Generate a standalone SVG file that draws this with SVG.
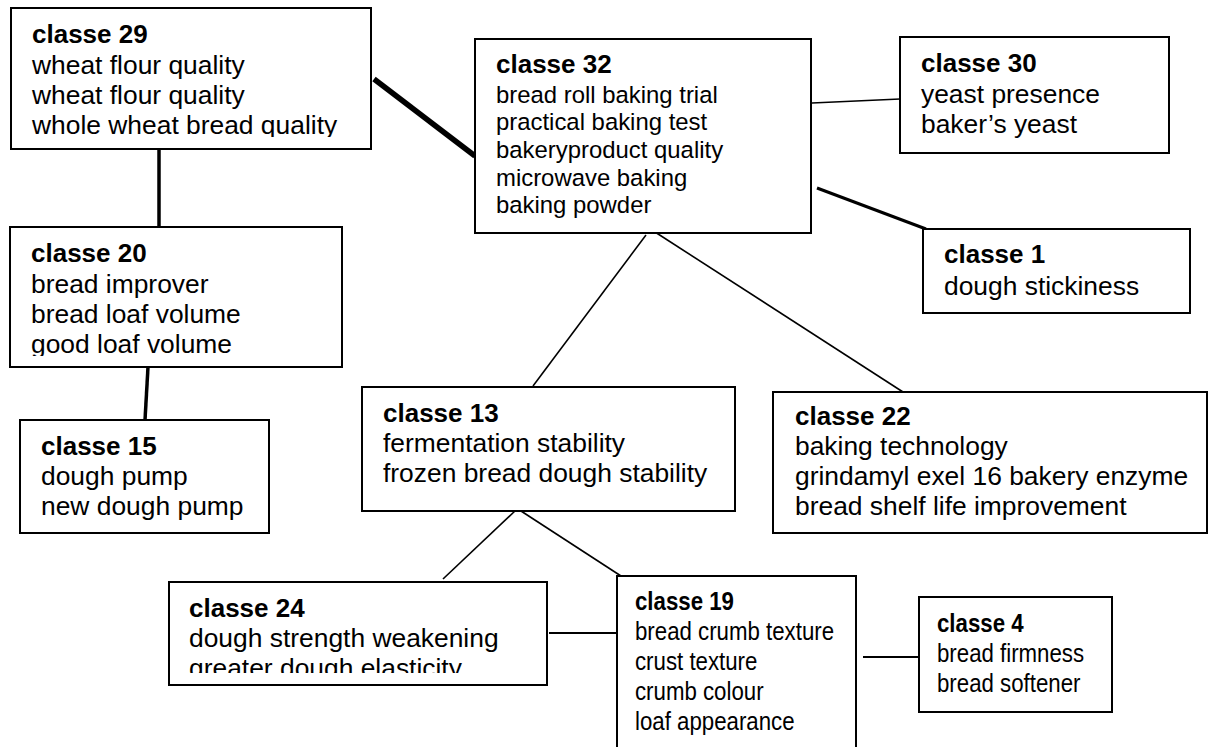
<svg xmlns="http://www.w3.org/2000/svg" width="1216" height="747" viewBox="0 0 1216 747">
<style>
.box{fill:#fff;stroke:#000;stroke-width:2}
.h{font-family:'Liberation Sans',Arial,sans-serif;font-weight:bold;font-size:26px;fill:#000}
.t{font-family:'Liberation Sans',Arial,sans-serif;font-size:26.4px;fill:#000}
.s{font-family:'Liberation Sans',Arial,sans-serif;font-size:23.9px;fill:#000}
.c{stroke:#000;fill:none}
</style>
<defs>
<clipPath id="clip29"><rect x="11" y="8" width="360" height="129"/></clipPath>
<clipPath id="clip20"><rect x="10" y="227" width="332" height="129"/></clipPath>
<clipPath id="clip24"><rect x="169" y="582" width="378" height="91"/></clipPath>
</defs>
<rect width="1216" height="747" fill="#fff"/>
<g id="connectors">
<line class="c" x1="374" y1="79" x2="475" y2="156" stroke-width="5.5"/>
<line class="c" x1="159" y1="150" x2="159" y2="226" stroke-width="3.5"/>
<line class="c" x1="148" y1="367" x2="145" y2="420" stroke-width="3.5"/>
<line class="c" x1="812" y1="103" x2="900" y2="99" stroke-width="1.5"/>
<line class="c" x1="817" y1="188" x2="926" y2="229" stroke-width="3"/>
<line class="c" x1="646" y1="235" x2="533" y2="386" stroke-width="1.6"/>
<line class="c" x1="655" y1="232" x2="903" y2="392" stroke-width="1.6"/>
<line class="c" x1="516" y1="510" x2="443" y2="579" stroke-width="1.6"/>
<line class="c" x1="521" y1="511" x2="621" y2="576" stroke-width="1.6"/>
<line class="c" x1="549" y1="633" x2="617" y2="633" stroke-width="1.8"/>
<line class="c" x1="863" y1="657" x2="918" y2="657" stroke-width="1.8"/>
</g>
<g id="classe29">
<rect class="box" x="11" y="8" width="360" height="141"/>
<text class="h" x="32" y="43">classe 29</text>
<g clip-path="url(#clip29)">
<text class="t" x="32" y="74">wheat flour quality</text>
<text class="t" x="32" y="104">wheat flour quality</text>
<text class="t" x="32" y="134">whole wheat bread quality</text>
</g>
</g>
<g id="classe32">
<rect class="box" x="475" y="39" width="336" height="194"/>
<text class="h" x="496" y="73">classe 32</text>
<text class="s" x="496" y="103">bread roll baking trial</text>
<text class="s" x="496" y="130">practical baking test</text>
<text class="s" x="496" y="157.5">bakeryproduct quality</text>
<text class="s" x="496" y="185.5">microwave baking</text>
<text class="s" x="496" y="213">baking powder</text>
</g>
<g id="classe30">
<rect class="box" x="900" y="37" width="269" height="116"/>
<text class="h" x="921" y="72">classe 30</text>
<text class="t" x="921" y="103">yeast presence</text>
<text class="t" x="921" y="133">baker’s yeast</text>
</g>
<g id="classe1">
<rect class="box" x="923" y="229" width="267" height="84"/>
<text class="h" x="944" y="263">classe 1</text>
<text class="t" x="944" y="295">dough stickiness</text>
</g>
<g id="classe20">
<rect class="box" x="10" y="227" width="332" height="140"/>
<text class="h" x="31" y="262">classe 20</text>
<g clip-path="url(#clip20)">
<text class="t" x="31" y="293">bread improver</text>
<text class="t" x="31" y="323">bread loaf volume</text>
<text class="t" x="31" y="353">good loaf volume</text>
</g>
</g>
<g id="classe15">
<rect class="box" x="20" y="420" width="249" height="113"/>
<text class="h" x="41" y="455">classe 15</text>
<text class="t" x="41" y="485">dough pump</text>
<text class="t" x="41" y="515">new dough pump</text>
</g>
<g id="classe13">
<rect class="box" x="362" y="387" width="373" height="124"/>
<text class="h" x="383" y="422">classe 13</text>
<text class="t" x="383" y="452">fermentation stability</text>
<text class="t" x="383" y="482">frozen bread dough stability</text>
</g>
<g id="classe22">
<rect class="box" x="773" y="392" width="434" height="141"/>
<text class="h" x="795" y="425">classe 22</text>
<text class="t" x="795" y="455">baking technology</text>
<text class="t" x="795" y="485">grindamyl exel 16 bakery enzyme</text>
<text class="t" x="795" y="515">bread shelf life improvement</text>
</g>
<g id="classe24">
<rect class="box" x="169" y="582" width="378" height="103"/>
<text class="h" x="189" y="617">classe 24</text>
<g clip-path="url(#clip24)">
<text class="t" x="189" y="647">dough strength weakening</text>
<text class="t" x="189" y="677">greater dough elasticity</text>
</g>
</g>
<g id="classe19">
<rect class="box" x="617" y="576" width="239" height="190"/>
<g transform="translate(635,0) scale(0.89,1)">
<text class="h" x="0" y="610" style="font-size:25px">classe 19</text>
<text class="t" x="0" y="640.5" style="font-size:25px">bread crumb texture</text>
<text class="t" x="0" y="670.5" style="font-size:25px">crust texture</text>
<text class="t" x="0" y="700.5" style="font-size:25px">crumb colour</text>
<text class="t" x="0" y="730.5" style="font-size:25px">loaf appearance</text>
</g>
</g>
<g id="classe4">
<rect class="box" x="919" y="597" width="193" height="115"/>
<g transform="translate(937,0) scale(0.89,1)">
<text class="h" x="0" y="632" style="font-size:25px">classe 4</text>
<text class="t" x="0" y="662.5" style="font-size:25px">bread firmness</text>
<text class="t" x="0" y="692.5" style="font-size:25px">bread softener</text>
</g>
</g>
</svg>
